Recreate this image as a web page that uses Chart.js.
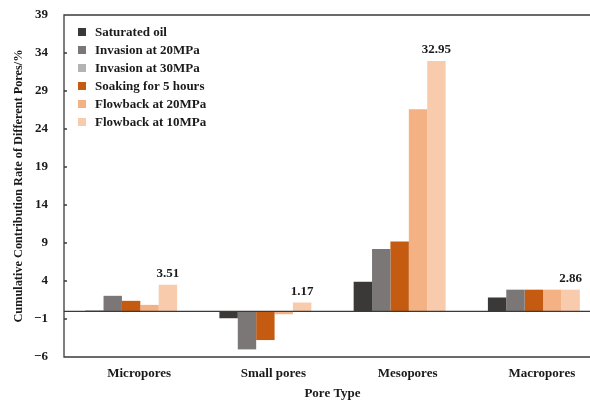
<!DOCTYPE html>
<html>
<head>
<meta charset="utf-8">
<script src="https://cdn.jsdelivr.net/npm/chart.js@4"></script>
<style>
  html, body { margin: 0; padding: 0; background: #fff; overflow: hidden; }
</style>
</head>
<body>
<canvas id="poreChart" width="602" height="401"></canvas>
<script>
// categories and series
const poreTypes = ["Micropores", "Small pores", "Mesopores", "Macropores"];
const seriesNames = [
  "Saturated oil",
  "Invasion at 20MPa",
  "Invasion at 30MPa",
  "Soaking for 5 hours",
  "Flowback at 20MPa",
  "Flowback at 10MPa",
];
const saturatedOil = [0.1, -0.9, 3.9, 1.83];
const invasion20 = [2.05, -5.0, 8.2, 2.86];
const invasion30 = [null, null, null, null]; // in legend only, no bars drawn
const soaking5h = [1.39, -3.77, 9.2, 2.86];
const flowback20 = [0.86, -0.37, 26.6, 2.86];
const flowback10 = [3.51, 1.17, 32.95, 2.86];
const yTicks = [-6, -1, 4, 9, 14, 19, 24, 29, 34, 39];

const colors = ["#3b3938", "#7b7776", "#b4b2b2", "#c55a11", "#f4b183", "#f8cbad"];
const seriesData = [saturatedOil, invasion20, invasion30, soaking5h, flowback20, flowback10];
const labelFont = { family: "'Liberation Serif', 'Times New Roman', serif", size: 13, weight: "bold" };
const fontStr = "bold 13px 'Liberation Serif', 'Times New Roman', serif";

// frame, zero line, inner ticks, legend and value labels
const decorations = {
  id: "decorations",
  afterDatasetsDraw(chart) {
    const { ctx, chartArea: a, scales: { y } } = chart;
    ctx.save();
    ctx.strokeStyle = "#3a3a3a";
    ctx.lineWidth = 1.3;
    ctx.beginPath();
    ctx.moveTo(a.right, a.top);
    ctx.lineTo(a.left, a.top);
    ctx.lineTo(a.left, a.bottom);
    ctx.lineTo(a.right, a.bottom);
    const y0 = y.getPixelForValue(0);
    ctx.moveTo(a.left, y0);
    ctx.lineTo(a.right, y0);
    yTicks.forEach((v) => {
      const py = y.getPixelForValue(v);
      ctx.moveTo(a.left, py);
      ctx.lineTo(a.left + 3, py);
    });
    ctx.stroke();

    // legend inside the plot, top left
    ctx.font = fontStr;
    ctx.textBaseline = "middle";
    ctx.textAlign = "left";
    chart.data.datasets.forEach((ds, i) => {
      const cy = a.top + 18 + i * 18;
      ctx.fillStyle = ds.backgroundColor;
      ctx.fillRect(a.left + 14, cy - 5, 8, 8);
      ctx.fillStyle = "#1a1a1a";
      ctx.fillText(ds.label, a.left + 31, cy);
    });

    // value labels over the last series
    const meta = chart.getDatasetMeta(5);
    ctx.textAlign = "center";
    ctx.textBaseline = "alphabetic";
    meta.data.forEach((bar, i) => {
      ctx.fillText(flowback10[i].toFixed(2), bar.x, bar.y - 8);
    });
    ctx.restore();
  },
};

new Chart(document.getElementById("poreChart"), {
  type: "bar",
  data: {
    labels: poreTypes,
    datasets: seriesNames.map((name, i) => ({
      label: name,
      data: seriesData[i],
      backgroundColor: colors[i],
      borderWidth: 0,
      skipNull: true,
      categoryPercentage: 0.685,
      barPercentage: 1.0,
    })),
  },
  options: {
    responsive: false,
    animation: false,
    layout: { padding: { top: 15, right: 1, left: 0, bottom: 0 } },
    plugins: {
      legend: { display: false },
      tooltip: { enabled: false },
    },
    scales: {
      x: {
        grid: { display: false, drawTicks: false },
        border: { display: false },
        ticks: { font: labelFont, color: "#1a1a1a", padding: 9, labelOffset: 8, maxRotation: 0, autoSkip: false },
        title: { display: true, text: "Pore Type", font: labelFont, color: "#1a1a1a", padding: 0 },
        afterFit(s) { s.height = 44; },
      },
      y: {
        min: -6,
        max: 39,
        afterBuildTicks(s) { s.ticks = yTicks.map((v) => ({ value: v })); },
        grid: { display: false, drawTicks: true, tickLength: 16 },
        border: { display: false },
        ticks: {
          font: labelFont,
          color: "#1a1a1a",
          padding: 0,
          callback: (v) => (v < 0 ? "\u2212" + Math.abs(v) : v),
        },
        title: {
          display: true,
          text: "Cumulative Contribution Rate of Different Pores/%",
          font: { ...labelFont, size: 12.3 },
          color: "#1a1a1a",
          padding: { top: 11, bottom: 0 },
        },
        afterFit(s) { s.width = 64; },
      },
    },
  },
  plugins: [decorations],
});
</script>
</body>
</html>
